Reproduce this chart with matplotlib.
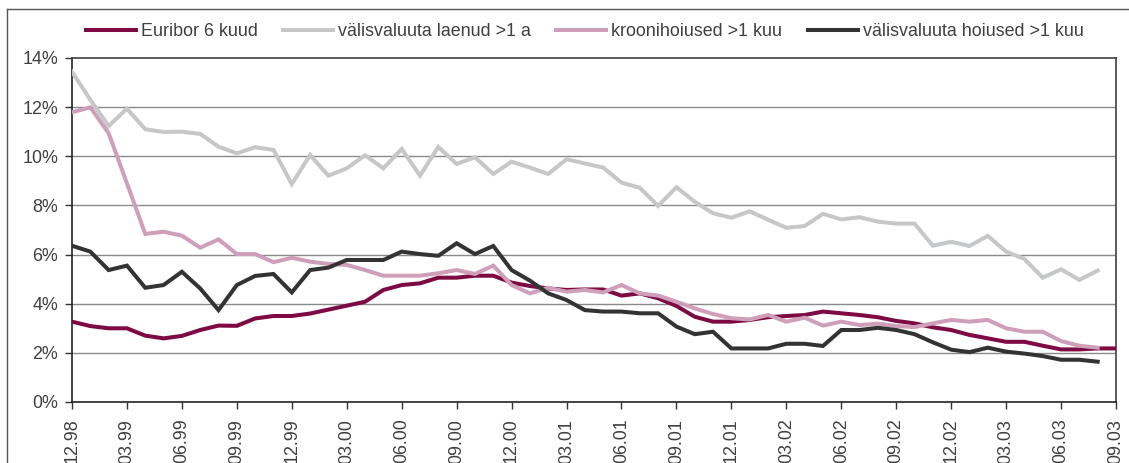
import matplotlib
matplotlib.use("Agg")
import matplotlib.pyplot as plt
from matplotlib.lines import Line2D
from matplotlib.ticker import FuncFormatter

plt.rcParams['font.family'] = ['Liberation Sans', 'DejaVu Sans']

# Monthly observations, 12.98 ... 09.03 (58 months)
tick_labels = ["12.98", "03.99", "06.99", "09.99", "12.99", "03.00", "06.00", "09.00",
               "12.00", "03.01", "06.01", "09.01", "12.01", "03.02", "06.02", "09.02",
               "12.02", "03.03", "06.03", "09.03"]

euribor = [3.27, 3.09, 3.00, 3.00, 2.70, 2.59, 2.69, 2.93, 3.11, 3.10,
           3.40, 3.50, 3.50, 3.60, 3.76, 3.92, 4.08, 4.56, 4.76, 4.83,
           5.06, 5.06, 5.14, 5.14, 4.86, 4.72, 4.62, 4.56, 4.58, 4.58,
           4.33, 4.42, 4.22, 3.91, 3.47, 3.27, 3.27, 3.34, 3.45, 3.50,
           3.54, 3.68, 3.61, 3.54, 3.45, 3.30, 3.20, 3.04, 2.93, 2.73,
           2.59, 2.45, 2.45, 2.29, 2.14, 2.14, 2.18, 2.18]

valis_laenud = [13.44, 12.30, 11.23, 11.94, 11.10, 10.99, 11.00, 10.91, 10.39, 10.12,
                10.37, 10.26, 8.87, 10.05, 9.21, 9.51, 10.04, 9.51, 10.30, 9.21,
                10.38, 9.69, 9.96, 9.28, 9.78, 9.54, 9.28, 9.88, 9.71, 9.54,
                8.93, 8.72, 7.98, 8.74, 8.15, 7.68, 7.50, 7.76, 7.42, 7.09,
                7.16, 7.66, 7.43, 7.52, 7.34, 7.26, 7.26, 6.36, 6.52, 6.35,
                6.76, 6.12, 5.82, 5.06, 5.40, 4.97, 5.35]

krooni_hoiused = [11.79, 11.99, 10.94, 8.90, 6.84, 6.93, 6.77, 6.28, 6.62, 6.02,
                  6.02, 5.69, 5.87, 5.71, 5.62, 5.58, 5.37, 5.14, 5.14, 5.14,
                  5.24, 5.37, 5.21, 5.55, 4.76, 4.42, 4.65, 4.49, 4.56, 4.46,
                  4.76, 4.42, 4.33, 4.08, 3.81, 3.58, 3.41, 3.36, 3.54, 3.27,
                  3.43, 3.11, 3.27, 3.13, 3.19, 3.09, 3.05, 3.20, 3.34, 3.27,
                  3.34, 3.00, 2.86, 2.86, 2.48, 2.29, 2.21]

valis_hoiused = [6.36, 6.12, 5.37, 5.55, 4.65, 4.76, 5.30, 4.62, 3.74, 4.76,
                 5.13, 5.21, 4.46, 5.37, 5.47, 5.78, 5.78, 5.78, 6.12, 6.02,
                 5.95, 6.46, 6.02, 6.35, 5.37, 4.94, 4.42, 4.15, 3.74, 3.68,
                 3.68, 3.61, 3.61, 3.07, 2.76, 2.86, 2.18, 2.18, 2.18, 2.37,
                 2.37, 2.28, 2.93, 2.93, 3.02, 2.93, 2.76, 2.43, 2.13, 2.03,
                 2.21, 2.05, 1.97, 1.87, 1.72, 1.72, 1.64]

series = [
    ("Euribor 6 kuud", euribor, "#7d0a43"),
    ("välisvaluuta laenud >1 a", valis_laenud, "#c6c7c9"),
    ("kroonihoiused >1 kuu", krooni_hoiused, "#cf9fba"),
    ("välisvaluuta hoiused >1 kuu", valis_hoiused, "#333333"),
]

W, H = 1129, 463
fig = plt.figure(figsize=(W / 100, H / 100), dpi=100)
fig.patch.set_facecolor("white")

# outer chart frame (left and top visible)
fig.add_artist(Line2D([7 / W, 7 / W], [0, 1 - 9 / H], transform=fig.transFigure,
                      color="#555555", lw=1.0))
fig.add_artist(Line2D([7 / W, 1], [1 - 9 / H, 1 - 9 / H], transform=fig.transFigure,
                      color="#555555", lw=1.0))

ax = fig.add_axes([72 / W, 1 - 402 / H, (1116 - 72) / W, (402 - 58) / H])

text_color = "#404040"
fs = 12.9
handles = []
for name, vals, col in series:
    h, = ax.plot(range(len(vals)), vals, color=col, lw=2.9, solid_joinstyle="miter",
                 label=name, zorder=3)
    handles.append(h)

ax.set_xlim(0, 57)
ax.set_ylim(0, 14)
ax.set_yticks(range(0, 15, 2))
ax.yaxis.set_major_formatter(FuncFormatter(lambda v, p: f"{int(v)}%"))
ax.set_xticks(range(0, 58, 3))
ax.set_xticklabels(tick_labels, rotation=90, va="top", ha="center")

for y in range(2, 14, 2):
    ax.axhline(y, color="#8a8a8a", lw=1.0, zorder=1)

for s in ax.spines.values():
    s.set_color("#404040")
    s.set_linewidth(1.2)
ax.spines["left"].set_color("#222222")
ax.spines["bottom"].set_color("#222222")

ax.tick_params(axis="both", direction="out", length=5, width=1.0, color="#333333",
               labelsize=fs, labelcolor=text_color)
ax.tick_params(axis="x", pad=7)
ax.tick_params(axis="y", pad=5)

leg = fig.legend(handles=handles, loc="center left",
                 bbox_to_anchor=(86 / W, 1 - 32 / H), ncol=4, frameon=False,
                 borderpad=0, borderaxespad=0, handlelength=2.8, handletextpad=0.28,
                 columnspacing=1.4, fontsize=fs)
for t in leg.get_texts():
    t.set_color(text_color)

fig.savefig("out.png", dpi=100, facecolor="white")
